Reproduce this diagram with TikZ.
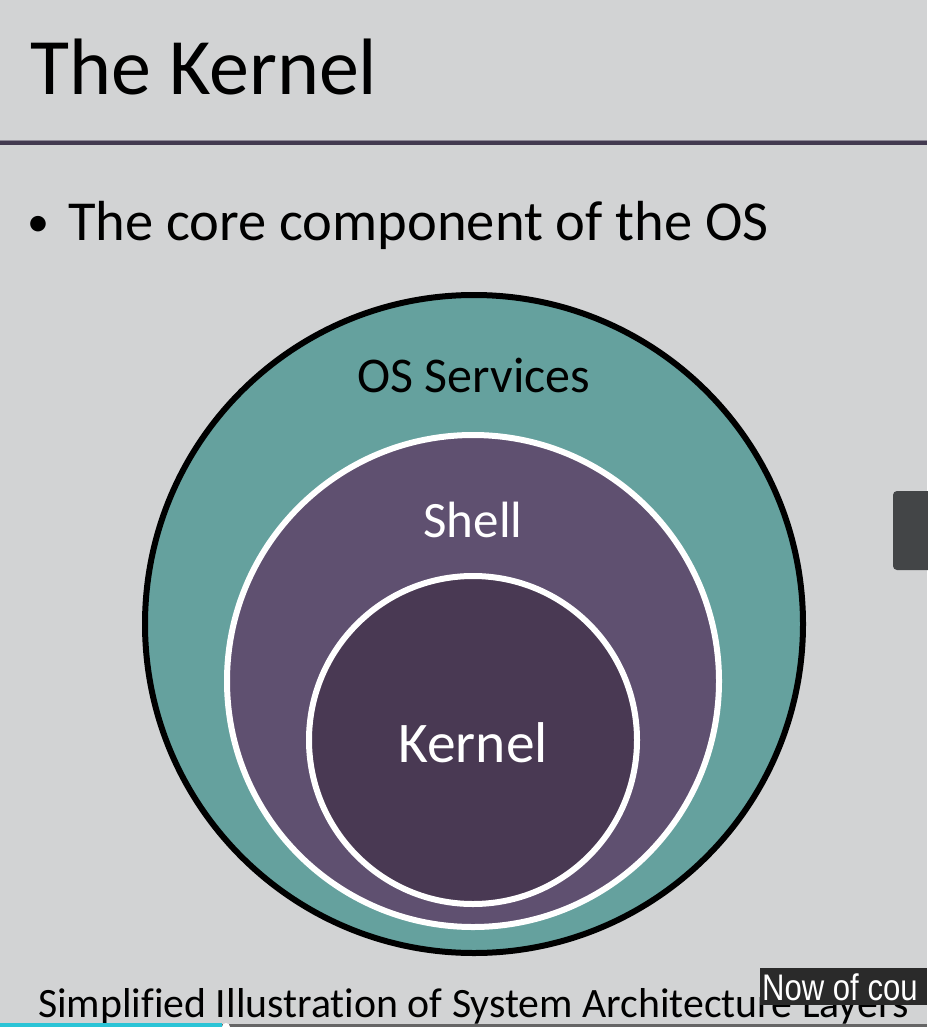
\documentclass[tikz,border=0pt]{standalone}
\usepackage{fontspec}
\setmainfont{Carlito}[Ligatures=NoCommon]
\newfontfamily\ovlfont{Liberation Sans}
\definecolor{bg}{HTML}{D2D3D4}
\definecolor{teal}{HTML}{65A19E}
\definecolor{shellc}{HTML}{5F5070}
\definecolor{kernc}{HTML}{493953}
\definecolor{rulec}{HTML}{433A50}
\definecolor{tabc}{HTML}{434547}
\definecolor{ovl}{HTML}{2A2A2A}
\definecolor{prog}{HTML}{2BC4D6}
\begin{document}
\begin{tikzpicture}[x=1pt,y=-1pt,
  ring/.style={circle,inner sep=0pt,outer sep=0pt},
  fs/.style={font=\fontsize{#1}{#1}\selectfont}]
\useasboundingbox (0,0) rectangle (927,1027);
\fill[bg] (0,0) rectangle (927,1027);
% header rule
\fill[rulec] (0,140) rectangle (927,145);
\fill[rulec!60!white] (0,140) rectangle (927,141);
% title
\node[anchor=base west,inner sep=0pt,fs=80] (title) at (30,95) {The Kernel};
% bullet
\node[anchor=base west,inner sep=0pt,fs=44] (bul) at (27,236) {\textbullet};
\node[anchor=base west,inner sep=0pt,fs=56.5] (btext) at (68,240) {The core component of the OS};
% circles
\node[ring,fill=teal,draw=black,line width=6pt,minimum size=658pt] (os) at (474,624) {};
\node[ring,fill=shellc,draw=white,line width=6pt,minimum size=492pt] (shell) at (473,681) {};
\node[ring,fill=kernc,draw=white,line width=6pt,minimum size=328pt] (kern) at (473,740) {};
\node[anchor=base,inner sep=0pt,fs=50] (ostext) at (474,392) {OS Services};
\node[anchor=base,inner sep=0pt,fs=51,text=white] (shtext) at (473,537) {Shell};
\node[anchor=base,inner sep=0pt,fs=57.5,text=white] (ktext) at (473,762) {Kernel};
% side tab
\fill[tabc,rounded corners=4pt] (893,491) rectangle (940,570);
% caption
\node[anchor=base west,inner sep=0pt,fs=41.8] (cap) at (38,1017) {Simplified Illustration of System Architecture Layers};
% overlay subtitle
\fill[ovl] (760,968) rectangle (927,1005);
\node[anchor=base west,inner sep=0pt,text=white,xscale=0.84,font=\ovlfont\fontsize{37}{37}\selectfont] (ovtext) at (762,1000) {Now of cou};
% progress bar
\fill[gray!80!black] (0,1024) rectangle (927,1027);
\fill[prog] (0,1023) rectangle (222,1027);
\fill[white] (226,1027) circle (4);
\end{tikzpicture}
\end{document}
